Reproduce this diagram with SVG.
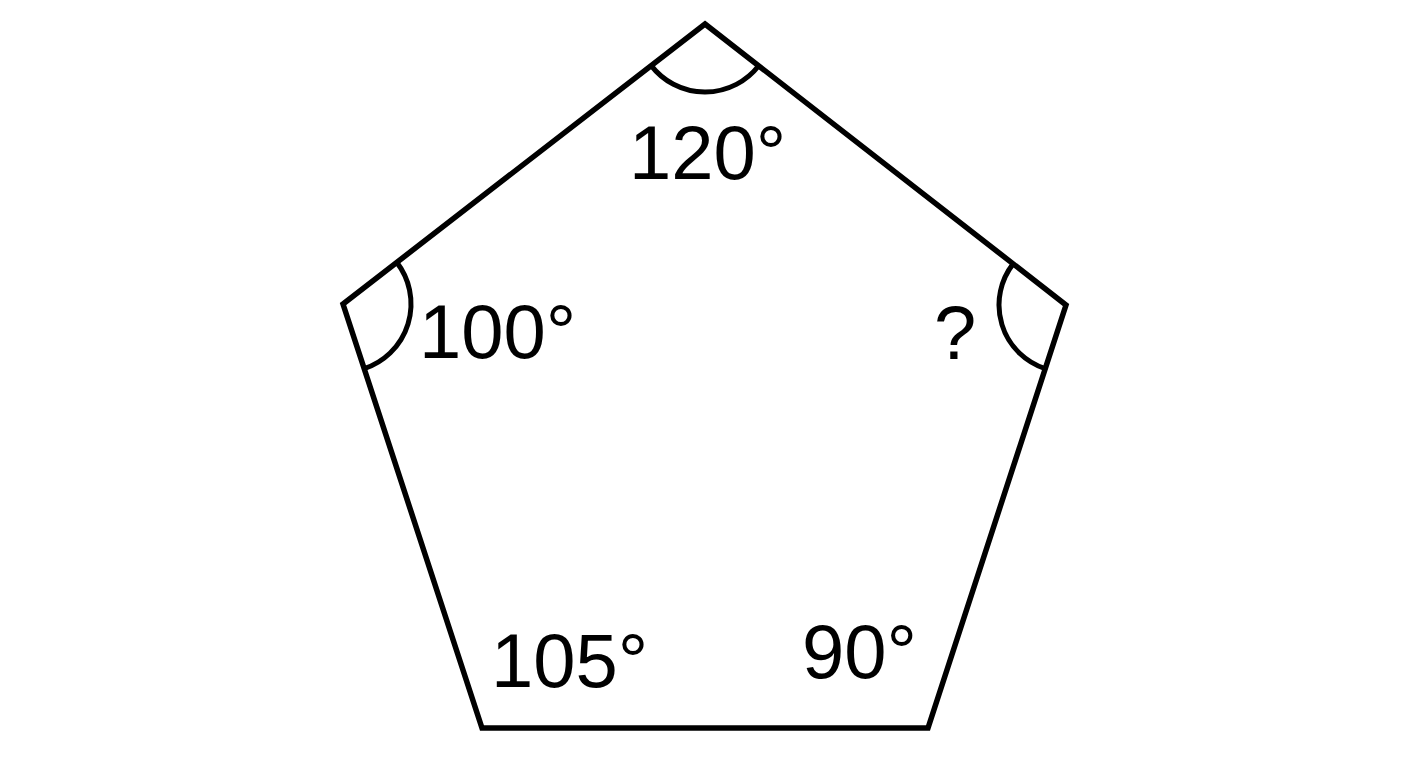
<svg xmlns="http://www.w3.org/2000/svg" width="1408" height="768" viewBox="0 0 1408 768">
<style>
.edge{fill:none;stroke:#000;stroke-width:5.5;stroke-linejoin:miter}
.arc{fill:none;stroke:#000;stroke-width:5}
.lbl{font-family:"Liberation Sans",Arial,sans-serif;font-size:76px;fill:#000}
</style>
<rect width="1408" height="768" fill="#fff"/>
<g id="pentagon">
<polygon class="edge" points="705,24 1066,305 928,728 482,728 343,304"/>
</g>
<g id="angle-top">
<path class="arc" d="M651.2,65.6 A68,68 0 0 0 758.7,65.8"/>
<text class="lbl" x="629" y="179">120°</text>
</g>
<g id="angle-left">
<path class="arc" d="M396.8,262.4 A68,68 0 0 1 364.2,368.6"/>
<text class="lbl" x="419" y="358">100°</text>
</g>
<g id="angle-right">
<path class="arc" d="M1013.1,263.9 A67,67 0 0 0 1045.2,368.7"/>
<text class="lbl" x="934" y="359">?</text>
</g>
<g id="angle-bottom-left">
<text class="lbl" x="491" y="687">105°</text>
</g>
<g id="angle-bottom-right">
<text class="lbl" x="802" y="678">90°</text>
</g>
</svg>
